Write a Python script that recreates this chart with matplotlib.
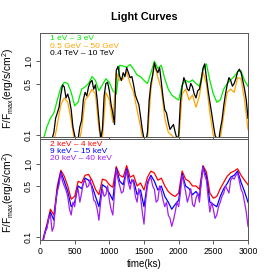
import numpy as np
import matplotlib
matplotlib.use("Agg")
import matplotlib.pyplot as plt
from matplotlib.ticker import FixedLocator, NullLocator

plt.rcParams["font.family"] = ["Liberation Sans", "DejaVu Sans"]
plt.rcParams["mathtext.fontset"] = "custom"
plt.rcParams["mathtext.rm"] = "Liberation Sans"

# time grids (ks)
time_ks = np.arange(0, 3001, 50)
time_fine = np.arange(0, 3001, 25)

# top panel: optical / GeV / TeV
flux_optical = [0.06, 0.09, 0.13, 0.17, 0.20, 0.30, 0.44, 0.52, 0.50, 0.38,
                0.25, 0.28, 0.42, 0.45, 0.50, 0.62, 0.55, 0.40, 0.48, 0.58,
                0.52, 0.40, 0.36, 0.88, 0.86, 0.83, 0.90, 0.78, 0.65, 0.62,
                0.55, 0.50, 0.70, 1.00, 0.80, 0.88, 0.58, 0.42, 0.35, 0.32,
                0.30, 0.48, 0.55, 0.52, 0.56, 0.50, 0.46, 0.75, 0.92, 0.55,
                0.36, 0.28, 0.30, 0.42, 0.50, 0.56, 0.62, 0.72, 0.74, 0.55,
                0.46]
flux_gev = [0.04, 0.04, 0.05, 0.06, 0.08, 0.14, 0.26, 0.32, 0.28, 0.16,
            0.08, 0.07, 0.12, 0.30, 0.34, 0.42, 0.36, 0.12, 0.09, 0.38,
            0.30, 0.15, 0.70, 0.55, 0.58, 0.72, 0.50, 0.38, 0.22, 0.13,
            0.07, 0.09, 0.42, 0.92, 0.60, 0.42, 0.17, 0.11, 0.10, 0.09,
            0.08, 0.36, 0.42, 0.30, 0.35, 0.24, 0.34, 0.72, 0.50, 0.20,
            0.10, 0.07, 0.09, 0.19, 0.38, 0.42, 0.38, 0.60, 0.58, 0.30,
            0.12]
flux_tev = [0.05, 0.05, 0.05, 0.055, 0.06, 0.075, 0.08, 0.09, 0.11, 0.17,
            0.20, 0.24, 0.35, 0.48, 0.45, 0.32, 0.36, 0.30, 0.22, 0.13,
            0.10, 0.08, 0.09, 0.13, 0.16, 0.30, 0.38, 0.34, 0.45, 0.52,
            0.55, 0.42, 0.48, 0.30, 0.16, 0.09, 0.12, 0.34, 0.50, 0.52,
            0.40, 0.26, 0.20, 0.14, 0.75, 0.85, 0.62, 0.55, 0.70, 0.62,
            0.82, 0.70, 0.60, 0.62, 0.48, 0.35, 0.30, 0.26, 0.18, 0.12,
            0.09, 0.08, 0.11, 0.30, 0.50, 0.65, 0.95, 0.78, 0.70, 0.82,
            0.52, 0.32, 0.22, 0.20, 0.15, 0.12, 0.13, 0.14, 0.11, 0.09,
            0.10, 0.28, 0.45, 0.60, 0.52, 0.42, 0.40, 0.50, 0.45, 0.36,
            0.32, 0.40, 0.42, 0.55, 0.80, 0.92, 0.60, 0.40, 0.28, 0.20,
            0.14, 0.10, 0.09, 0.08, 0.12, 0.16, 0.25, 0.36, 0.48, 0.60,
            0.55, 0.46, 0.50, 0.58, 0.72, 0.78, 0.70, 0.55, 0.42, 0.30,
            0.17]

# bottom panel: X-ray bands
flux_2_4kev = [0.05, 0.10, 0.15, 0.24, 0.20, 0.50, 0.82, 0.68, 0.50, 0.33,
               0.36, 0.58, 0.55, 0.70, 0.72, 0.60, 0.45, 0.38, 0.62, 0.60,
               0.52, 0.48, 0.92, 0.70, 0.66, 0.95, 0.66, 0.70, 0.50, 0.55,
               0.44, 0.66, 0.80, 0.75, 0.60, 0.64, 0.50, 0.42, 0.38, 0.36,
               0.40, 0.80, 0.62, 0.58, 0.50, 0.50, 0.45, 0.95, 0.78, 0.40,
               0.34, 0.36, 0.46, 0.56, 0.68, 0.76, 0.80, 0.86, 0.70, 0.60,
               0.52]
flux_9_15kev = [0.045, 0.095, 0.14, 0.22, 0.17, 0.45, 0.78, 0.58, 0.42, 0.26,
                0.30, 0.50, 0.46, 0.64, 0.60, 0.50, 0.36, 0.26, 0.52, 0.48,
                0.40, 0.32, 0.88, 0.58, 0.52, 0.86, 0.54, 0.60, 0.38, 0.44,
                0.26, 0.56, 0.70, 0.58, 0.44, 0.50, 0.36, 0.30, 0.24, 0.28,
                0.32, 0.74, 0.50, 0.46, 0.38, 0.42, 0.36, 0.92, 0.68, 0.30,
                0.28, 0.26, 0.36, 0.46, 0.54, 0.66, 0.70, 0.80, 0.56, 0.42,
                0.30]
flux_20_40kev = [0.04, 0.06, 0.09, 0.12, 0.13, 0.18, 0.20, 0.12, 0.14, 0.30,
                 0.42, 0.52, 0.75, 0.58, 0.50, 0.44, 0.36, 0.24, 0.20, 0.30,
                 0.26, 0.40, 0.45, 0.30, 0.40, 0.55, 0.60, 0.48, 0.50, 0.62,
                 0.45, 0.32, 0.30, 0.24, 0.17, 0.30, 0.45, 0.36, 0.38, 0.50,
                 0.32, 0.24, 0.20, 0.40, 0.85, 0.62, 0.50, 0.40, 0.42, 0.60,
                 0.80, 0.55, 0.45, 0.62, 0.55, 0.36, 0.30, 0.46, 0.36, 0.22,
                 0.15, 0.32, 0.50, 0.62, 0.65, 0.50, 0.45, 0.30, 0.32, 0.50,
                 0.42, 0.32, 0.26, 0.30, 0.20, 0.18, 0.14, 0.17, 0.22, 0.30,
                 0.26, 0.40, 0.70, 0.55, 0.42, 0.30, 0.36, 0.46, 0.28, 0.26,
                 0.34, 0.40, 0.30, 0.55, 0.90, 0.70, 0.60, 0.35, 0.22, 0.30,
                 0.24, 0.18, 0.20, 0.26, 0.30, 0.36, 0.40, 0.50, 0.45, 0.40,
                 0.60, 0.65, 0.62, 0.70, 0.75, 0.58, 0.45, 0.40, 0.30, 0.22,
                 0.14]

top_labels = ["1 eV \u2013 3 eV", "0.5 GeV \u2013 50 GeV", "0.4 TeV \u2013 10 TeV"]
top_colors = ["#00EE00", "#FFA500", "#000000"]
bottom_labels = ["2 keV \u2013 4 keV", "9 keV \u2013 15 keV", "20 keV \u2013 40 keV"]
bottom_colors = ["#FF0000", "#0000FF", "#A020F0"]

ytick_vals = [0.1, 0.5, 1.0]
ytick_text = ["0.1", "0.5", "1.0"]
xtick_vals = [0, 500, 1000, 1500, 2000, 2500, 3000]

W = 274.0
fig = plt.figure(figsize=(2.74, 2.74), dpi=100)
ax_top = fig.add_axes([40 / W, 1 - 137 / W, 208 / W, 104 / W])
ax_bot = fig.add_axes([40 / W, 1 - 240 / W, 208 / W, 101 / W])


def style_axis(ax, ylim, show_x):
    ax.set_yscale("log")
    ax.set_xlim(0, 3000)
    ax.set_ylim(*ylim)
    ax.yaxis.set_major_locator(FixedLocator(ytick_vals))
    ax.yaxis.set_minor_locator(NullLocator())
    ax.set_yticklabels(ytick_text, rotation=90, va="center", fontsize=6.2)
    ax.set_xticks(xtick_vals)
    if show_x:
        ax.set_xticklabels([str(v) for v in xtick_vals], fontsize=6.2)
    else:
        ax.set_xticklabels([])
    ax.tick_params(direction="out", length=3, width=0.6, color="#444444", pad=2)
    for sp in ax.spines.values():
        sp.set_color("#555555")
        sp.set_linewidth(0.7)
    ax.set_ylabel(r"F/F$_{\mathrm{max}}$(erg/s/cm$^2$)", fontsize=7.4)
    ax.yaxis.set_label_coords((16 - 40) / 208, 0.47)


def add_legend(ax, labels, colors, first_px, height_px):
    for i, (lab, col) in enumerate(zip(labels, colors)):
        y = 1 - (first_px + i * 7.5) / height_px
        ax.text(10 / 208, y, lab, color=col, fontsize=6.0,
                transform=ax.transAxes, va="center", ha="left")


for t, vals, col in zip([time_ks, time_ks, time_fine],
                        [flux_optical, flux_gev, flux_tev], top_colors):
    ax_top.plot(t, vals, color=col, lw=0.9)
style_axis(ax_top, (0.095, 2.4), False)
add_legend(ax_top, top_labels, top_colors, 5.5, 104)

for t, vals, col in zip([time_ks, time_ks, time_fine],
                        [flux_2_4kev, flux_9_15kev, flux_20_40kev], bottom_colors):
    ax_bot.plot(t, vals, color=col, lw=0.9)
style_axis(ax_bot, (0.091, 2.2), True)
add_legend(ax_bot, bottom_labels, bottom_colors, 5.0, 101)
ax_bot.set_xlabel("time(ks)", fontsize=7, labelpad=2)

fig.text(144 / W, 1 - 17 / W, "Light Curves", fontsize=7.8, fontweight="bold",
         ha="center", va="center")

fig.savefig("out.png", dpi=100)
